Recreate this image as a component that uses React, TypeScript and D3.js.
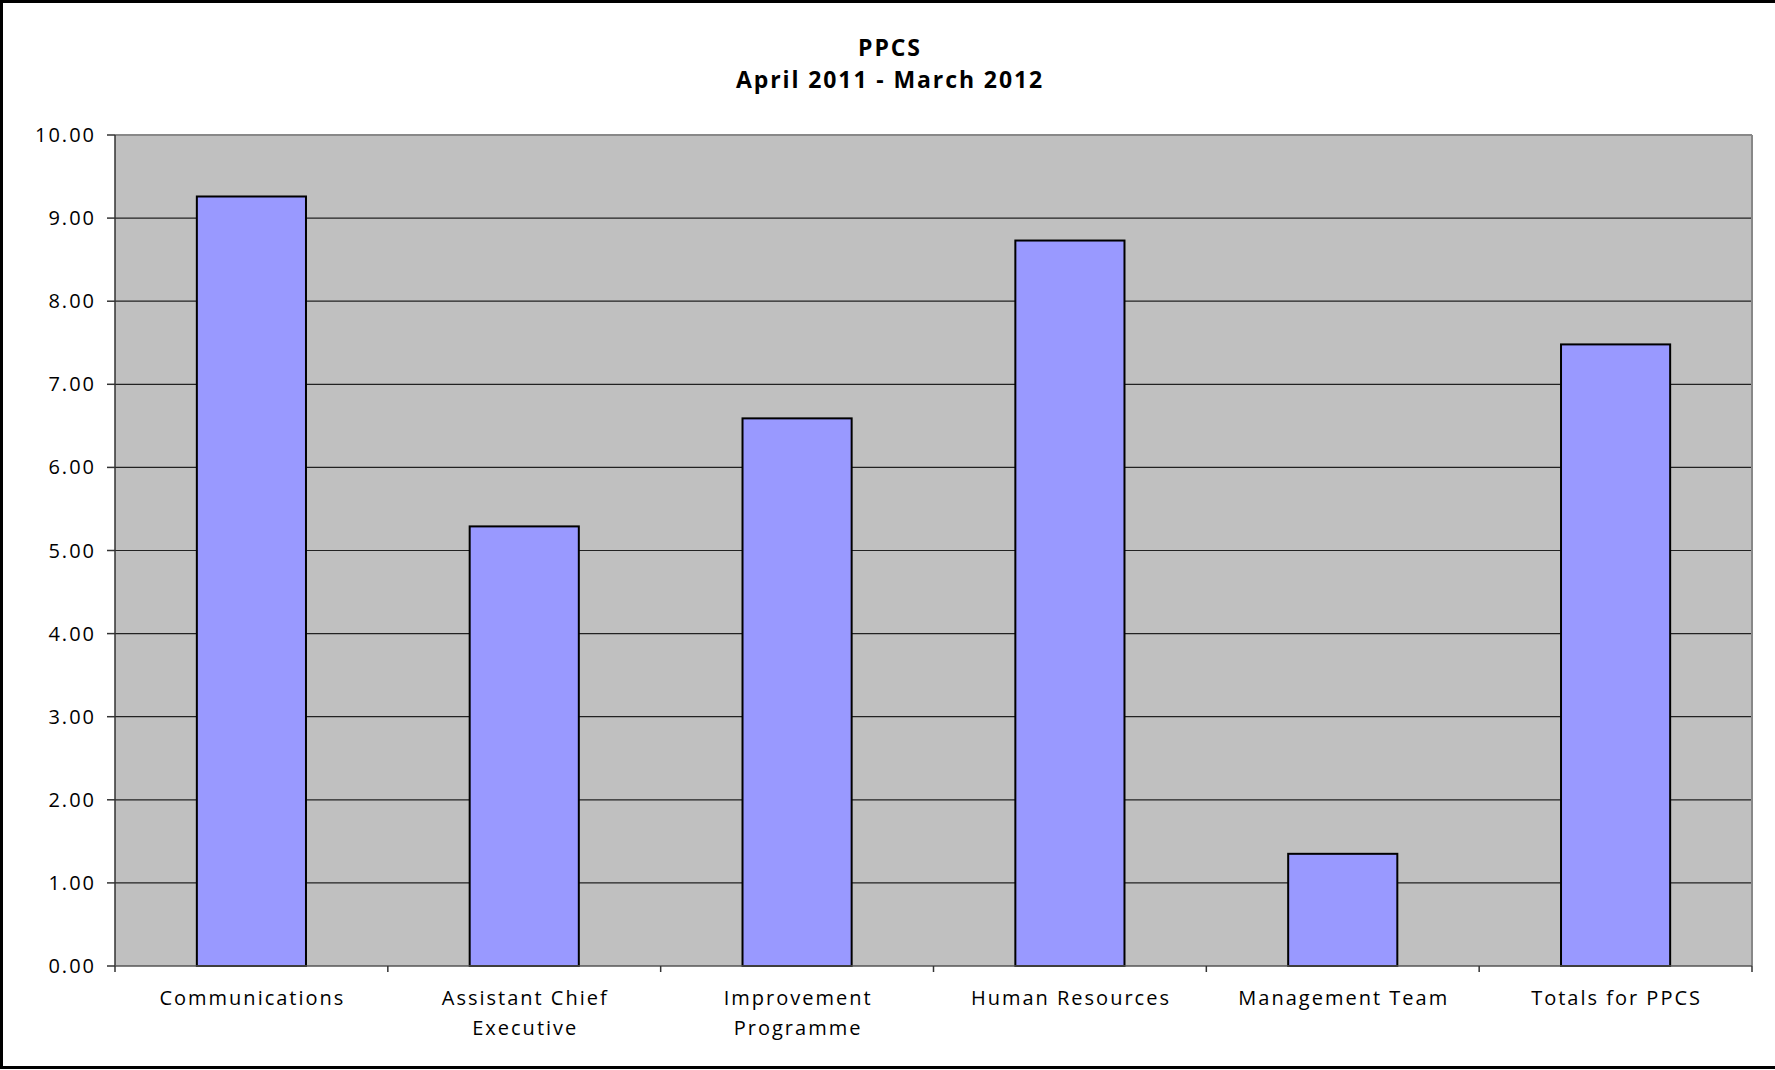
import React, { useEffect } from "react";
import * as d3 from "d3";

const categories: string[][] = [
  ["Communications"],
  ["Assistant Chief", "Executive"],
  ["Improvement", "Programme"],
  ["Human Resources"],
  ["Management Team"],
  ["Totals for PPCS"],
];
const values: number[] = [9.26, 5.29, 6.59, 8.73, 1.35, 7.48];
const yTicks: number[] = [0, 1, 2, 3, 4, 5, 6, 7, 8, 9, 10];
const titleLines: string[] = ["PPCS", "April 2011 - March 2012"];

const W = 1775;
const H = 1070;
const plot = { left: 115, right: 1752, top: 135, bottom: 966 };
const FONT = "'Open Sans', sans-serif";

export default function App() {
  useEffect(() => {
    document.body.style.margin = "0";
  }, []);

  const x = d3
    .scaleBand<number>()
    .domain(d3.range(values.length))
    .range([plot.left, plot.right])
    .paddingInner(0.6)
    .paddingOuter(0.3);
  const band = (plot.right - plot.left) / values.length;
  const y = d3.scaleLinear().domain([0, 10]).range([plot.bottom, plot.top]);
  const fmt = d3.format(".2f");

  return (
    <svg width={W} height={H} style={{ display: "block", background: "#fff" }}>
      {/* outer frame */}
      <rect x={1.5} y={1.5} width={W + 10} height={H - 4} fill="none" stroke="#000" strokeWidth={3} />

      {/* title */}
      <g fontFamily={FONT} fontWeight={700} fontSize={23} letterSpacing={1.9} textAnchor="middle" fill="#000">
        <text x={890} y={56}>{titleLines[0]}</text>
        <text x={890} y={88}>{titleLines[1]}</text>
      </g>

      {/* plot area */}
      <rect x={plot.left} y={plot.top} width={plot.right - plot.left} height={plot.bottom - plot.top} fill="#c0c0c0" />
      {yTicks.slice(1, -1).map((t) => (
        <line key={t} x1={plot.left} x2={plot.right} y1={y(t)} y2={y(t)} stroke="#222" strokeWidth={1.2} />
      ))}
      <line x1={plot.left} x2={plot.right} y1={plot.top} y2={plot.top} stroke="#888" strokeWidth={2} />
      <line x1={plot.right} x2={plot.right} y1={plot.top} y2={plot.bottom} stroke="#888" strokeWidth={2} />

      {/* bars */}
      {values.map((v, i) => (
        <rect
          key={i}
          x={x(i)!}
          y={y(v)}
          width={x.bandwidth()}
          height={y(0) - y(v)}
          fill="#9999ff"
          stroke="#000"
          strokeWidth={2}
        />
      ))}

      {/* y axis */}
      <line x1={plot.left} x2={plot.left} y1={plot.top} y2={plot.bottom} stroke="#333" strokeWidth={1.5} />
      {yTicks.map((t) => (
        <g key={t}>
          <line x1={plot.left - 8} x2={plot.left} y1={y(t)} y2={y(t)} stroke="#333" strokeWidth={1.5} />
          <text
            x={96}
            y={y(t) + 7}
            textAnchor="end"
            fontFamily={FONT}
            fontSize={20}
            letterSpacing={2}
            fill="#000"
          >
            {fmt(t)}
          </text>
        </g>
      ))}

      {/* x axis */}
      <line x1={plot.left} x2={plot.right} y1={plot.bottom} y2={plot.bottom} stroke="#555" strokeWidth={1.5} />
      {d3.range(values.length + 1).map((i) => (
        <line
          key={i}
          x1={plot.left + i * band}
          x2={plot.left + i * band}
          y1={plot.bottom}
          y2={plot.bottom + 6}
          stroke="#333"
          strokeWidth={1.5}
        />
      ))}
      {categories.map((lines, i) => (
        <text
          key={i}
          textAnchor="middle"
          fontFamily={FONT}
          fontSize={20}
          letterSpacing={2}
          fill="#000"
        >
          {lines.map((l, j) => (
            <tspan key={j} x={x(i)! + x.bandwidth() / 2 + 1} y={1005 + j * 30}>
              {l}
            </tspan>
          ))}
        </text>
      ))}
    </svg>
  );
}
